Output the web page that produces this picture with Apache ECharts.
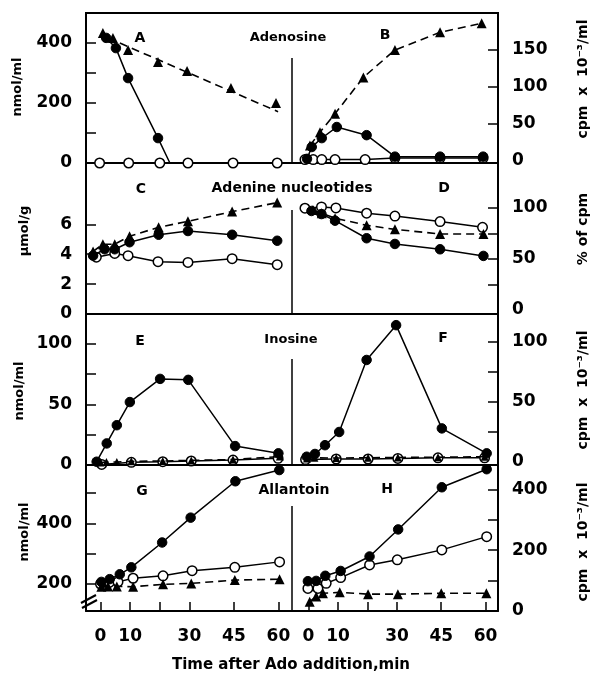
<!DOCTYPE html>
<html><head><meta charset="utf-8">
<script src="https://cdn.jsdelivr.net/npm/echarts@6/dist/echarts.min.js"></script>
<style>html,body{margin:0;padding:0;background:#fff}#c{width:591px;height:673px}</style>
</head><body><div id="c"></div>
<script>
// ---------- DATA (time in min, value) ----------
// A: Adenosine nmol/ml
const aOpen   = [[-0.3,0],[9.5,0],[20,0],[29.5,0],[44.7,0],[59.6,0]];
const aFilled = [[1.9,417],[5.2,383],[9.3,283],[19.4,83],[23.4,0]];
const aTri    = [[0.8,433],[4.2,417],[9.3,377],[19.4,337],[29.2,307],[44,250],[59.2,200]];
const aTriFit = [[2.5,417],[59.9,171]];
// B: Adenosine cpm x 10^-3/ml
const bOpen   = [[-1.2,1],[1.6,1],[4.5,1],[9,1],[19.2,1],[29.3,3],[44.6,3],[59.2,3]];
const bFilled = [[-0.5,2],[1.1,18],[4.5,30],[9.6,45],[19.7,34],[29.3,5],[44.6,5],[59.2,5]];
const bTri    = [[0.5,20],[3.9,38],[9,63],[18.6,112],[29.3,149],[44.6,173],[58.7,185]];
// C: Adenine nucleotides umol/g
const cOpen   = [[-1.4,3.8],[4.8,4.05],[9.3,3.9],[19.4,3.5],[29.5,3.45],[44.4,3.7],[59.6,3.3]];
const cFilled = [[-2.5,3.9],[1.4,4.33],[4.8,4.33],[9.8,4.8],[19.6,5.3],[29.5,5.55],[44.4,5.3],[59.6,4.9]];
const cTri    = [[-2.5,4.18],[0.8,4.67],[4.8,4.67],[9.8,5.2],[19.6,5.8],[29.5,6.2],[44.4,6.85],[59.6,7.45]];
// D: Adenine nucleotides % of cpm
const dOpen   = [[-1.2,99.7],[4.4,101],[9.3,100],[19.7,94.8],[29.3,92],[44.6,86.6],[59,81]];
const dFilled = [[1,97],[4.4,94],[9,87.5],[19.7,70.3],[29.3,64.7],[44.6,59.5],[59.3,53]];
const dTri    = [[1.5,98],[4.5,94.8],[9,90],[19.7,83],[29.3,79],[44.6,74.5],[59.3,74.5]];
// E: Inosine nmol/ml
const eOpen   = [[0.4,0.5],[10.4,2.2],[21,2.7],[30.6,3.3],[44.7,4.1],[59.9,5.5]];
const eFilled = [[-1.3,2.7],[2.1,17.8],[5.5,32.8],[9.9,51.9],[20.1,71],[29.6,70.2],[45.4,15.6],[60,9.6]];
const eTri    = [[0,2],[2,2.5],[5.5,2.5],[10.4,3],[21,3.3],[30.6,3.8],[44.7,4.5],[60.5,7]];
// F: Inosine cpm x 10^-3/ml
const fOpen   = [[-1,2],[9.4,2.5],[20.2,2.5],[30.3,3],[43.9,3.5],[59.7,3.5]];
const fFilled = [[-0.6,4.4],[2.2,6.7],[5.6,14],[10.4,25],[19.7,85],[29.7,114],[45.2,28],[60.4,7.2]];
const fTri    = [[-0.5,3],[2,3.5],[9.4,3.3],[20.2,3.5],[30.3,3.8],[43.9,4],[59.7,4.4]];
// G: Allantoin nmol/ml
const gOpen   = [[0,200],[3,205],[5.9,207],[11,219],[21.1,227],[30.9,244],[45.3,255],[60.4,273]];
const gFilled = [[0.3,207],[3.1,216],[6.5,232],[10.4,255],[20.8,337],[30.4,419],[45.5,539],[60.3,576]];
const gTri    = [[0.3,191],[2.5,192],[5.5,192],[11,191],[21.1,199],[30.6,202],[45.3,213],[60.4,216]];
// H: Allantoin cpm x 10^-3/ml
const hOpen   = [[-0.2,73],[3.2,73],[6,90],[10.9,109],[20.7,151],[30.1,168],[45.2,201],[60.4,245]];
const hFilled = [[-0.2,97],[2.6,98],[5.7,115],[10.9,131],[20.7,179],[30.4,269],[45.2,409],[60.4,469]];
const hTri    = [[0.4,29],[2.6,46],[4.9,57],[10.6,60],[20.2,54],[30.3,54],[45,57],[60.3,57]];

// tick labels and texts
const xTicks  = [0,10,20,30,45,60];
const xLabels = [0,10,30,45,60];
const panelLetters = ['A','B','C','D','E','F','G','H'];
const rowTitles = ['Adenosine','Adenine nucleotides','Inosine','Allantoin'];
const leftNames = ['nmol/ml','μmol/g','nmol/ml','nmol/ml'];
const rightNames = ['cpm  x  10⁻³/ml','% of cpm','cpm  x  10⁻³/ml','cpm  x  10⁻³/ml'];
const xName = 'Time after Ado addition,min';

// ---------- LAYOUT ----------
const FONT = 'DejaVu Sans';
const rows = [[13,163],[163,314],[314,465],[465,611]];
const yCfg = [
  {min:0,    max:500,   ticks:[100,200,300,400], labels:[0,200,400]},
  {min:-3.6, max:199,   ticks:[50,100,150],      labels:[0,50,100,150]},
  {min:0,    max:10.1,  ticks:[2,4,6],           labels:[0,2,4,6]},
  {min:-3.9, max:144,   ticks:[25,50,75,100],    labels:[0,50,100]},
  {min:0,    max:124.5, ticks:[25,50,75,100],    labels:[0,50,100]},
  {min:-2.5, max:123.3, ticks:[25,50,75,100],    labels:[0,50,100]},
  {min:110.9,max:592.7, ticks:[200,300,400,500], labels:[200,400]},
  {min:-2,   max:483,   ticks:[100,200,300,400], labels:[0,200,400]}
];
const grids=[], xAxes=[], yAxes=[];
for (let i=0;i<8;i++){
  const r = Math.floor(i/2), isLeft = i%2===0;
  const [top,bot] = rows[r];
  grids.push({left: isLeft?86:292, width:206, top: top, height: bot-top, outerBoundsMode:'none'});
  const last = r===3;
  xAxes.push({gridIndex:i, type:'value', min: isLeft?-4.89:-5.59, max: isLeft?64.59:64.24,
    axisLine:{show:true,onZero:false,lineStyle:{color:'#000',width:2}},
    axisTick:{show:last,inside:true,length:9,lineStyle:{color:'#000',width:1.5},customValues:xTicks},
    axisLabel:{show:last,margin:17,color:'#000',fontFamily:FONT,fontWeight:'bold',fontSize:17,customValues:xLabels},
    splitLine:{show:false}});
  const c = yCfg[i];
  yAxes.push({gridIndex:i, type:'value', min:c.min, max:c.max, position: isLeft?'left':'right',
    axisLine:{show:true,onZero:false,lineStyle:{color:'#000',width:2}},
    axisTick:{show:true,inside:true,length:10,lineStyle:{color:'#000',width:1.5},customValues:c.ticks},
    axisLabel:{show:true,margin:14,color:'#000',fontFamily:FONT,fontWeight:'bold',fontSize:17,customValues:c.labels},
    splitLine:{show:false}});
}

function ser(g, data, kind, extra){
  const s = {type:'line', xAxisIndex:g, yAxisIndex:g, data:data, animation:false, silent:true,
    symbolSize: kind==='tri'?10:9.5, z: kind==='filled'?4:(kind==='tri'?3:2)};
  if (kind==='open'){
    s.symbol='circle'; s.itemStyle={color:'#fff',borderColor:'#000',borderWidth:1.5};
    s.lineStyle={color:'#000',width:1.5};
  } else if (kind==='filled'){
    s.symbol='circle'; s.itemStyle={color:'#000',borderColor:'#000',borderWidth:1};
    s.lineStyle={color:'#000',width:1.5};
  } else if (kind==='tri'){
    s.symbol='triangle'; s.itemStyle={color:'#000'};
    s.lineStyle={color:'#000',width:1.6,type:[8,5]};
  } else if (kind==='fit'){
    s.symbol='none'; s.lineStyle={color:'#000',width:1.6,type:[8,5]};
  }
  return Object.assign(s, extra||{});
}

const series = [
  ser(0,aOpen,'open'),
  ser(0,aTriFit,'fit'),
  ser(0,aTri,'tri',{lineStyle:{opacity:0}}),
  ser(0,aFilled,'filled',{symbol:(v,p)=>p.dataIndex===aFilled.length-1?'none':'circle'}),
  ser(1,bOpen,'open'), ser(1,bTri,'tri'), ser(1,bFilled,'filled'),
  ser(2,cOpen,'open'), ser(2,cTri,'tri'), ser(2,cFilled,'filled'),
  ser(3,dOpen,'open'), ser(3,dTri,'tri'), ser(3,dFilled,'filled'),
  ser(4,eOpen,'open'), ser(4,eTri,'tri',{symbolSize:8}), ser(4,eFilled,'filled'),
  ser(5,fOpen,'open'), ser(5,fTri,'tri',{symbolSize:8}), ser(5,fFilled,'filled'),
  ser(6,gOpen,'open'), ser(6,gTri,'tri'), ser(6,gFilled,'filled'),
  ser(7,hOpen,'open'), ser(7,hTri,'tri'), ser(7,hFilled,'filled')
];

// ---------- DECORATION ----------
function txt(x,y,t,size,rot){
  return {type:'text', x:x, y:y, rotation: rot||0, z:100,
    style:{text:t, fill:'#000', font:'bold '+size+'px "'+FONT+'"', textAlign:'center', textVerticalAlign:'middle'}};
}
function ln(x1,y1,x2,y2,w){
  return {type:'line', z:100, shape:{x1,y1,x2,y2}, style:{stroke:'#000', lineWidth:w||1.5}};
}
const letterPos = [[140,38],[385,35],[141,189],[444,188],[140,341],[443,338],[142,491],[387,489]];
const titlePos  = [[288,38],[292,188],[291,340],[294,490]];
const titleSize = [13,14,13,14];
const leftNamePos  = [[18,87],[25,231],[20,391],[25,532]];
const rightNamePos = [[583,79],[583,229],[583,390],[583,542]];
const dividers = [[58,163],[210,314],[359,465],[506,611]];
const graphic = [ln(85,13,499,13,2)];
dividers.forEach(d=>graphic.push(ln(292,d[0],292,d[1],1.5)));
graphic.push(ln(81,603,96,595,2), ln(82,608,97,600,2));
panelLetters.forEach((t,i)=>graphic.push(txt(letterPos[i][0],letterPos[i][1],t,14)));
rowTitles.forEach((t,i)=>graphic.push(txt(titlePos[i][0],titlePos[i][1],t,titleSize[i])));
leftNames.forEach((t,i)=>graphic.push(txt(leftNamePos[i][0],leftNamePos[i][1],t,13,Math.PI/2)));
rightNames.forEach((t,i)=>graphic.push(txt(rightNamePos[i][0],rightNamePos[i][1],t,14,Math.PI/2)));
graphic.push(txt(291,665,xName,15));

const chart = echarts.init(document.getElementById('c'), null, {renderer:'canvas'});
chart.setOption({animation:false, backgroundColor:'#fff', grid:grids, xAxis:xAxes, yAxis:yAxes, series:series, graphic:graphic});
</script></body></html>
